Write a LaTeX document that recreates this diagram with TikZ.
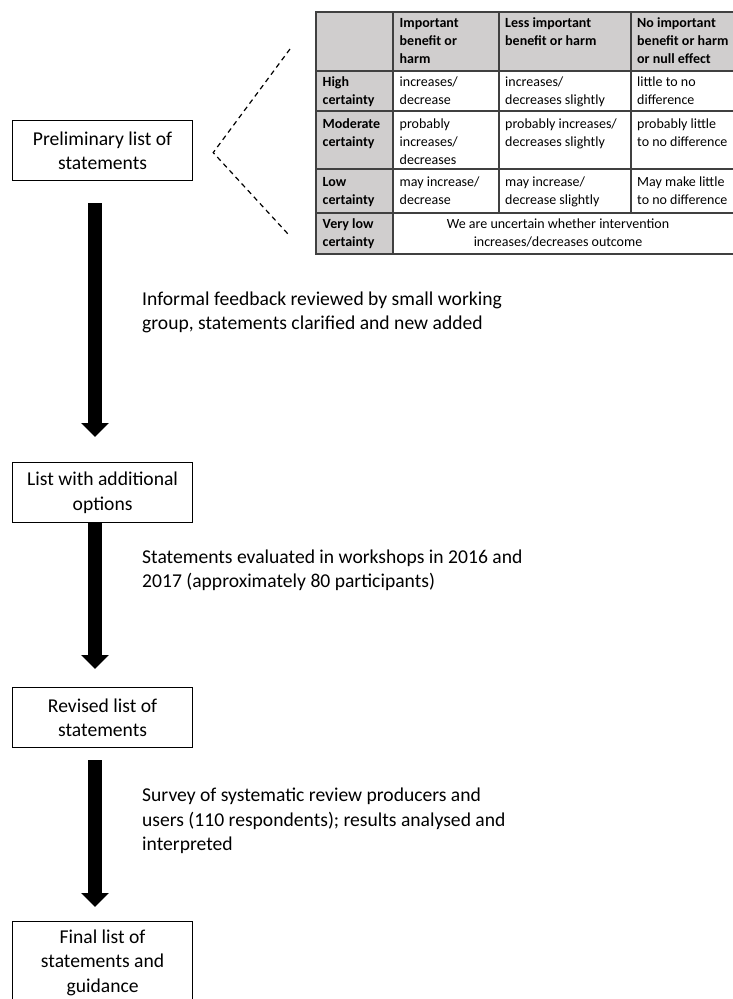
\documentclass[tikz,border=0pt]{standalone}
\usepackage{fontspec}
\setmainfont{Carlito}
\usepackage{tikz}
\usetikzlibrary{arrows.meta}
\definecolor{cellgrey}{HTML}{D0CECE}
\definecolor{rulegrey}{HTML}{404040}

\begin{document}
\begin{tikzpicture}[x=1pt,y=-1pt,
  stage/.style={draw,line width=1.2pt,align=center,anchor=north west,minimum width=180pt,minimum height=60pt,inner sep=0pt,font=\fontsize{19.6}{24.5}\selectfont},
  note/.style={anchor=north west,inner sep=0pt,align=left,font=\fontsize{19.6}{24.5}\selectfont},
  cell/.style={anchor=north west,inner sep=0pt,align=left,font=\fontsize{14}{17.8}\selectfont},
  headcell/.style={cell,font=\fontsize{14}{17.8}\selectfont\bfseries},
  tablerule/.style={draw=rulegrey,line width=1.3pt},
  flow/.style={line width=14pt,-{Triangle[length=14pt,width=27pt]}}]
\useasboundingbox (0,0) rectangle (733,999);
\coordinate (ax) at (95,0);

\node [stage] (prelim) at (12,120) {Preliminary list of\\statements};
\node [stage] (listadd) at (12,462) {List with additional\\options};
\node [stage] (revised) at (12,687) {Revised list of\\statements};
\node [stage,minimum height=82pt] (final) at (12,921) {Final list of\\statements and\\guidance};

\draw [flow] ([yshift=-22pt]prelim.south -| ax) -- ([yshift=25pt]listadd.north -| ax);
\draw [flow] (listadd.south -| ax) -- ([yshift=18pt]revised.north -| ax);
\draw [flow] ([yshift=-12pt]revised.south -| ax) -- ([yshift=14pt]final.north -| ax);

\node [note] (step1) at (142,288) {\strut Informal feedback reviewed by small working\\group, statements clarified and new added};
\node [note] (step2) at (142,546) {\strut Statements evaluated in workshops in 2016 and\\2017 (approximately 80 participants)};
\node [note] (step3) at (142,784.5) {\strut Survey of systematic review producers and\\users (110 respondents); results analysed and\\interpreted};

% certainty table
\fill [cellgrey] (316,12) rectangle (745,71);
\fill [cellgrey] (316,71) rectangle (393,254);
\foreach \x in {393,499,631} \draw [tablerule] (\x,12) -- (\x,213);
\draw [tablerule] (393,213) -- (393,254);
\foreach \y in {71,111,169,213} \draw [tablerule] (316,\y) -- (745,\y);
\draw [tablerule] (745,12) -- (316,12) -- (316,254) -- (745,254);

\node [headcell] (hd1) at (399.5,15) {\strut Important\\benefit or\\harm};
\node [headcell] (hd2) at (505,15) {\strut Less important\\benefit or harm};
\node [headcell] (hd3) at (637,15) {\strut No important\\benefit or harm\\or null effect};

\node [headcell] (rw1) at (322.5,74) {\strut High\\certainty};
\node [headcell] (rw2) at (322.5,116) {\strut Moderate\\certainty};
\node [headcell] (rw3) at (322.5,174) {\strut Low\\certainty};
\node [headcell] (rw4) at (322.5,216) {\strut Very low\\certainty};

\node [cell] (c11) at (399.5,74) {\strut increases/\\decrease};
\node [cell] (c12) at (505,74) {\strut increases/\\decreases slightly};
\node [cell] (c13) at (637,74) {\strut little to no\\difference};
\node [cell] (c21) at (399.5,116) {\strut probably\\increases/\\decreases};
\node [cell] (c22) at (505,116) {\strut probably increases/\\decreases slightly};
\node [cell] (c23) at (637,116) {\strut probably little\\to no difference};
\node [cell] (c31) at (399.5,174) {\strut may increase/\\decrease};
\node [cell] (c32) at (505,174) {\strut may increase/\\decrease slightly};
\node [cell] (c33) at (637,174) {\strut May make little\\to no difference};
\node [cell,anchor=north,align=center] (c41) at (558,216) {\strut We are uncertain whether intervention\\increases/decreases outcome};

\coordinate (zoomtop) at (290,49);
\coordinate (zoombot) at (288,234);
\draw [line width=1.2pt,dash pattern=on 5pt off 4pt] (zoomtop) -- ([xshift=20pt,yshift=-2pt]prelim.east) -- (zoombot);
\end{tikzpicture}
\end{document}
